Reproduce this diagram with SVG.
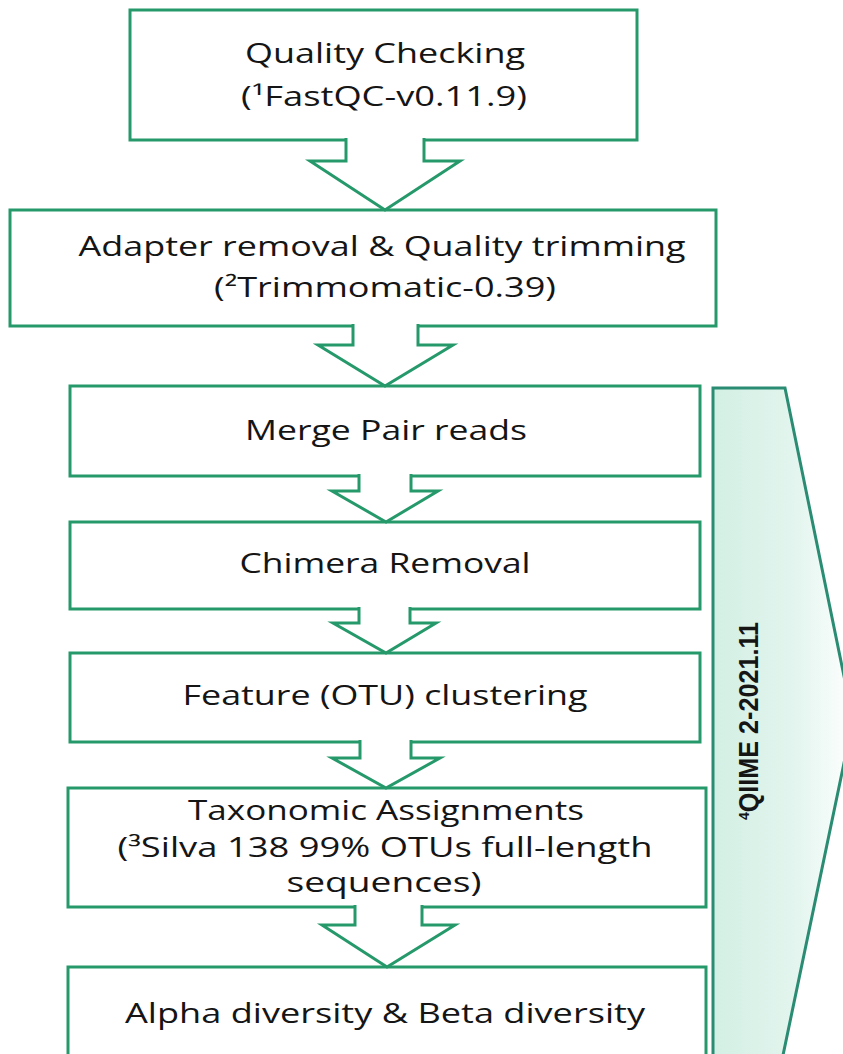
<svg xmlns="http://www.w3.org/2000/svg" width="843" height="1054" viewBox="0 0 843 1054">
<defs>
<linearGradient id="bg" x1="0" y1="0" x2="1" y2="0">
<stop offset="0" stop-color="#d3efe4"/>
<stop offset="0.6" stop-color="#e3f5ee"/>
<stop offset="1" stop-color="#ffffff"/>
</linearGradient>
<style>
.box{fill:#ffffff;stroke:#26996b;stroke-width:3}
.arrow{fill:#ffffff;stroke:#26996b;stroke-width:3;stroke-linejoin:miter}
.t{font-family:"Open Sans","Liberation Sans",sans-serif;font-size:27px;fill:#151515;text-anchor:middle}
.banner{fill:url(#bg);stroke:#2a8c72;stroke-width:3}
.bt{font-family:"Liberation Sans",Arial,sans-serif;font-weight:bold;font-size:27px;fill:#151515;text-anchor:middle}
</style>
</defs>
<rect width="843" height="1054" fill="#ffffff"/>
<g id="qiime-banner">
<path class="banner" d="M713,1060 L713,388 L785,388 L853,720 L782,1060"/>
<text class="bt" transform="translate(758,721) rotate(-90)" textLength="198" lengthAdjust="spacingAndGlyphs"><tspan font-size="15" dy="-9">4</tspan><tspan dy="9">QIIME 2-2021.11</tspan></text>
</g>
<g id="n1">
<rect class="box" x="130" y="10" width="507" height="130"/>
<text class="t" x="385" y="63" textLength="280" lengthAdjust="spacingAndGlyphs">Quality Checking</text>
<text class="t" x="384" y="106" textLength="286" lengthAdjust="spacingAndGlyphs">(¹FastQC-v0.11.9)</text>
</g>
<g id="n2">
<rect class="box" x="10" y="210" width="706" height="116"/>
<text class="t" x="382" y="256" textLength="607" lengthAdjust="spacingAndGlyphs">Adapter removal &amp; Quality trimming</text>
<text class="t" x="385" y="297" textLength="342" lengthAdjust="spacingAndGlyphs">(²Trimmomatic-0.39)</text>
</g>
<g id="n3">
<rect class="box" x="70" y="386" width="630" height="90"/>
<text class="t" x="386" y="440" textLength="282" lengthAdjust="spacingAndGlyphs">Merge Pair reads</text>
</g>
<g id="n4">
<rect class="box" x="70" y="522" width="630" height="87"/>
<text class="t" x="385" y="573" textLength="291" lengthAdjust="spacingAndGlyphs">Chimera Removal</text>
</g>
<g id="n5">
<rect class="box" x="70" y="653" width="630" height="89"/>
<text class="t" x="385" y="705" textLength="405" lengthAdjust="spacingAndGlyphs">Feature (OTU) clustering</text>
</g>
<g id="n6">
<rect class="box" x="68" y="788" width="638" height="119"/>
<text class="t" x="386" y="820" textLength="396" lengthAdjust="spacingAndGlyphs">Taxonomic Assignments</text>
<text class="t" x="385" y="857" font-size="25" textLength="535" lengthAdjust="spacingAndGlyphs">(³Silva 138 99% OTUs full-length</text>
<text class="t" x="384" y="892" font-size="25" textLength="195" lengthAdjust="spacingAndGlyphs">sequences)</text>
</g>
<g id="n7">
<rect class="box" x="68" y="967" width="638" height="100"/>
<text class="t" x="385" y="1023" textLength="520" lengthAdjust="spacingAndGlyphs">Alpha diversity &amp; Beta diversity</text>
</g>
<g id="connectors">
<path class="arrow" d="M346,138 L346,161 L310,161 L385,210 L460,161 L424,161 L424,138"/>
<path class="arrow" d="M353,324 L353,345 L318,345 L385,386 L453,345 L418,345 L418,324"/>
<path class="arrow" d="M359,474 L359,491 L332,491 L386,522 L438,491 L411,491 L411,474"/>
<path class="arrow" d="M359,607 L359,623 L333,623 L386,653 L436,623 L410,623 L410,607"/>
<path class="arrow" d="M360,740 L360,758 L332,758 L386,788 L440,758 L411,758 L411,740"/>
<path class="arrow" d="M355,905 L355,925 L322,925 L387,967 L455,925 L422,925 L422,905"/>
</g>
</svg>
